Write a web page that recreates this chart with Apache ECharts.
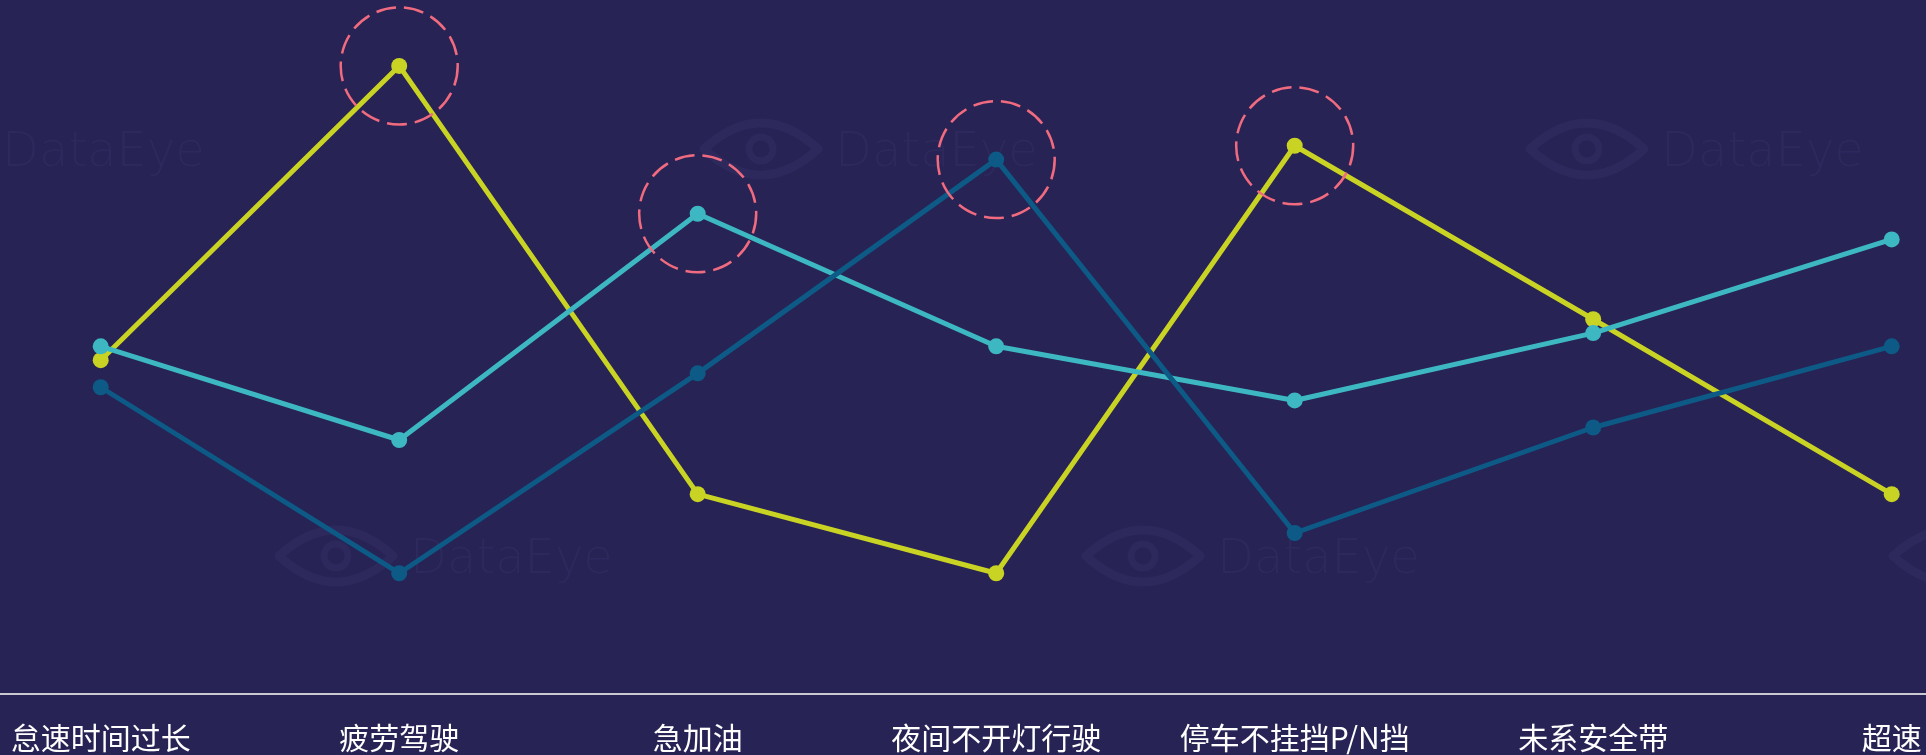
<!DOCTYPE html>
<html>
<head>
<meta charset="utf-8">
<script src="https://cdn.jsdelivr.net/npm/echarts@6/dist/echarts.min.js"></script>
<style>
  html, body { margin: 0; padding: 0; background: #272354; }
  #chart { width: 1926px; height: 755px; }
</style>
</head>
<body>
<div id="chart"></div>
<script>
// Driving-behaviour categories along the x axis
const categories = ['怠速时间过长', '疲劳驾驶', '急加油', '夜间不开灯行驶', '停车不挂挡P/N挡', '未系安全带', '超速'];

// Three series of scores (0–100 scale)
const seriesYellow = [48.1, 90.5, 28.8, 17.4, 79.0, 54.0, 28.8];
const seriesCyan   = [50.1, 36.6, 69.2, 50.1, 42.3, 52.0, 65.5];
const seriesNavy   = [44.2, 17.4, 46.2, 77.0, 23.2, 38.4, 50.1];

// Categories whose top value gets a dashed ring
const ringedCategories = ['疲劳驾驶', '急加油', '夜间不开灯行驶', '停车不挂挡P/N挡'];

const COLORS = { yellow: '#c9d324', cyan: '#3db8c3', navy: '#0d5a86', ring: '#f06b7f' };

// Ring sits on the highest of the three values at each ringed category
const ringData = ringedCategories.map(function (cat) {
  const i = categories.indexOf(cat);
  return [cat, Math.max(seriesYellow[i], seriesCyan[i], seriesNavy[i])];
});

// Faint "DataEye" watermark tiles (text left x, baseline y)
const markSpots = [
  [2, 166], [835, 166], [1661, 166],
  [410, 573], [1217, 573], [2024, 573]
];
const MARK_COLOR = '#2d295d';

// Almond-shaped eye outline around (cx, cy)
function almond(cx, cy, hw, hh) {
  const pts = [];
  const n = 24;
  for (let k = 0; k <= n; k++) {
    const t = -1 + 2 * k / n;
    pts.push([cx + t * hw, cy - hh * (1 - t * t)]);
  }
  for (let k = n - 1; k > 0; k--) {
    const t = -1 + 2 * k / n;
    pts.push([cx + t * hw, cy + hh * (1 - t * t)]);
  }
  return pts;
}

function watermark() {
  const els = [];
  markSpots.forEach(function (p) {
    const cx = p[0] - 74, cy = p[1] - 17;
    els.push({
      type: 'polygon', silent: true, z: 0,
      shape: { points: almond(cx, cy, 57, 26) },
      style: { fill: 'none', stroke: MARK_COLOR, lineWidth: 9, lineJoin: 'round' }
    });
    els.push({
      type: 'circle', silent: true, z: 0,
      shape: { cx: cx, cy: cy, r: 12 },
      style: { fill: 'none', stroke: MARK_COLOR, lineWidth: 7 }
    });
    els.push({
      type: 'text', silent: true, z: 0,
      x: p[0], y: p[1] - 36,
      style: {
        text: 'DataEye', fill: MARK_COLOR,
        font: '200 48px "DejaVu Sans", sans-serif',
        verticalAlign: 'top'
      }
    });
  });
  return els;
}

function lineSeries(name, data, color) {
  return {
    name: name,
    type: 'line',
    data: data,
    symbol: 'circle',
    symbolSize: 16,
    lineStyle: { color: color, width: 5 },
    itemStyle: { color: color },
    z: 3
  };
}

const chart = echarts.init(document.getElementById('chart'), null, { renderer: 'canvas' });

chart.setOption({
  backgroundColor: '#272354',
  animation: false,
  graphic: { elements: watermark() },
  grid: [
    // plotting area
    { left: 100.7, right: 34.3, top: 0, bottom: 61, containLabel: false },
    // full-width strip that only carries the base line
    { left: 0, right: 0, top: 0, bottom: 61, containLabel: false }
  ],
  xAxis: [
    {
      type: 'category',
      gridIndex: 0,
      data: categories,
      boundaryGap: false,
      axisLine: { show: false },
      axisTick: { show: false },
      splitLine: { show: false },
      axisLabel: {
        interval: 0,
        color: '#ffffff',
        fontSize: 30,
        margin: 29,
        fontFamily: '"Noto Sans CJK SC", sans-serif'
      }
    },
    {
      type: 'value',
      gridIndex: 1,
      min: 0,
      max: 1,
      axisLine: { show: true, lineStyle: { color: '#c9c9d2', width: 2 } },
      axisTick: { show: false },
      axisLabel: { show: false },
      splitLine: { show: false }
    }
  ],
  yAxis: [
    { type: 'value', gridIndex: 0, min: 0, max: 100, show: false, splitLine: { show: false } },
    { type: 'value', gridIndex: 1, min: 0, max: 1, show: false, splitLine: { show: false } }
  ],
  series: [
    lineSeries('黄线', seriesYellow, COLORS.yellow),
    lineSeries('青线', seriesCyan, COLORS.cyan),
    lineSeries('蓝线', seriesNavy, COLORS.navy),
    {
      name: '标记',
      type: 'scatter',
      data: ringData,
      symbol: 'circle',
      symbolSize: 117,
      silent: true,
      z: 5,
      itemStyle: {
        color: 'transparent',
        borderColor: COLORS.ring,
        borderWidth: 2.5,
        borderType: [20, 8],
        opacity: 1
      }
    }
  ]
});
</script>
</body>
</html>
